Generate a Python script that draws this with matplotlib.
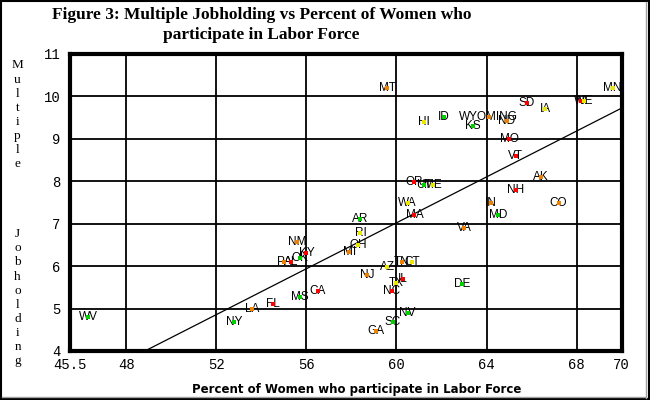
import matplotlib
matplotlib.use("Agg")
import matplotlib.pyplot as plt
from matplotlib.patches import Rectangle
from matplotlib.lines import Line2D

# state, percent of women in labor force, multiple jobholding rate, dot colour
states = ["MT", "HI", "ID", "WYOMING", "KS", "ND", "SD", "IA", "WI", "NE",
          "MN", "MO", "VT", "AK", "NH", "IN", "CO", "MD", "VA", "DE",
          "OR", "UT", "ME", "WA", "MA", "AR", "RI", "OH", "MI", "NM",
          "KY", "OK", "PA", "AL", "AZ", "TN", "CT", "NJ", "TX", "IL",
          "NC", "CA", "MS", "LA", "FL", "NV", "SC", "GA", "NY", "WV"]
pct_women = [59.6, 61.2, 62.1, 64.1, 63.4, 64.9, 65.8, 66.6, 68.2, 68.35,
             69.6, 65.0, 65.3, 66.4, 65.3, 64.2, 67.2, 64.5, 63.0, 62.9,
             60.8, 61.2, 61.6, 60.5, 60.8, 58.4, 58.4, 58.3, 57.9, 55.6,
             56.0, 55.7, 55.0, 55.3, 59.6, 60.25, 60.7, 58.7, 60.0, 60.3,
             59.8, 56.5, 55.7, 53.6, 54.5, 60.5, 59.85, 59.1, 52.8, 46.3]
multi_job = [10.2, 9.39, 9.5, 9.5, 9.29, 9.42, 9.83, 9.71, 9.9, 9.9,
             10.2, 9.0, 8.6, 8.09, 7.8, 7.49, 7.49, 7.2, 6.89, 5.58,
             7.98, 7.9, 7.9, 7.49, 7.2, 7.1, 6.79, 6.49, 6.32, 6.57,
             6.31, 6.2, 6.09, 6.09, 5.98, 6.09, 6.09, 5.79, 5.59, 5.69,
             5.42, 5.41, 5.28, 4.98, 5.1, 4.89, 4.69, 4.47, 4.69, 4.79]
dot_codes = ["o", "y", "g", "o", "g", "o", "r", "y", "r", "y",
             "y", "r", "r", "o", "r", "o", "o", "g", "o", "g",
             "r", "g", "y", "y", "r", "g", "y", "y", "o", "o",
             "r", "g", "o", "r", "y", "o", "y", "o", "y", "r",
             "r", "r", "g", "o", "r", "g", "g", "o", "g", "g"]

# trend line end points
fit_x = [48.82, 70.0]
fit_y = [4.0, 9.72]

x_ticks = [45.5, 48, 52, 56, 60, 64, 68, 70]
x_tick_labels = ["45.5", "48", "52", "56", "60", "64", "68", "70"]
y_ticks = [4, 5, 6, 7, 8, 9, 10, 11]

palette = {"r": "#ff0000", "o": "#f08000", "y": "#e8e800", "g": "#00d000"}

fig = plt.figure(figsize=(6.5, 4.0), dpi=100)
ax = fig.add_axes([0.108, 0.1225, 0.8482, 0.743])

ax.set_xlim(45.5, 70)
ax.set_ylim(4, 11)
ax.set_xticks(x_ticks)
ax.set_xticklabels(x_tick_labels)
ax.set_yticks(y_ticks)
ax.tick_params(axis="x", length=0, labelsize=10, pad=5)
ax.tick_params(axis="y", length=0, labelsize=10, pad=7)
for lab in ax.get_xticklabels() + ax.get_yticklabels():
    lab.set_family("Liberation Mono")
ax.grid(True, color="black", lw=1.3)
ax.set_axisbelow(True)
for sp in ax.spines.values():
    sp.set_linewidth(3)

ax.plot(fit_x, fit_y, color="black", lw=0.9, zorder=2)

for name, xv, yv, c in zip(states, pct_women, multi_job, dot_codes):
    ax.text(xv, yv, name, ha="center", va="center", fontsize=8.5,
            family="Liberation Sans", zorder=3)
    ax.plot(xv, yv, marker="s", ms=2.6, mew=0, color=palette[c], zorder=4)

fig.text(0.402, 0.937, "Figure 3: Multiple Jobholding vs Percent of Women who\nparticipate in Labor Force",
         ha="center", va="center", fontsize=12.5, fontweight="bold",
         family="Liberation Serif", linespacing=1.3)

ylab = "Multiple\n\nJobholding"
fig.text(0.027, 0.467, "\n".join(ylab), ha="center", va="center",
         fontsize=9.5, family="Liberation Serif", linespacing=1.23)

fig.text(0.548, 0.027, "Percent of Women who participate in Labor Force",
         ha="center", va="center", fontsize=8.5, fontweight="bold",
         family="DejaVu Sans")

# window-like frame round the whole picture
fig.patches.append(Rectangle((0.001, 0.002), 0.997, 0.996, transform=fig.transFigure,
                             fill=False, edgecolor="black", lw=1.5))
fig.lines.append(Line2D([0.994, 0.994], [0.006, 0.995], transform=fig.transFigure,
                        color="#a0a0a0", lw=1))
fig.lines.append(Line2D([0.003, 0.994], [0.008, 0.008], transform=fig.transFigure,
                        color="#a0a0a0", lw=1))

fig.savefig("out.png", dpi=100)
